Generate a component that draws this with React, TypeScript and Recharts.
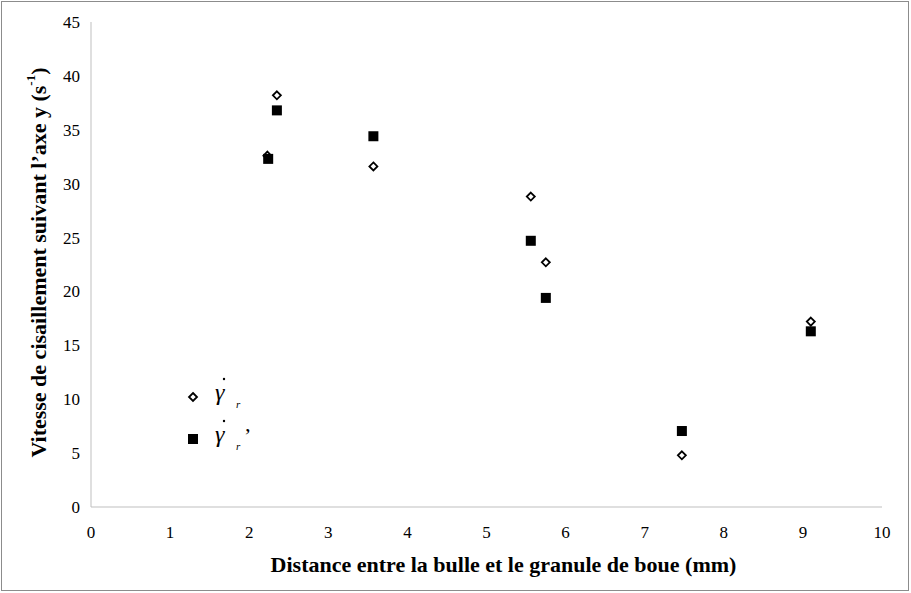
import React from "react";
import { ScatterChart, Scatter, XAxis, YAxis } from "recharts";

const gammaR = [
  { x: 2.23, y: 32.6 },
  { x: 2.35, y: 38.2 },
  { x: 3.57, y: 31.6 },
  { x: 5.56, y: 28.8 },
  { x: 5.75, y: 22.7 },
  { x: 7.47, y: 4.8 },
  { x: 9.1, y: 17.2 },
];

const gammaRPrime = [
  { x: 2.24, y: 32.3 },
  { x: 2.35, y: 36.8 },
  { x: 3.57, y: 34.4 },
  { x: 5.56, y: 24.7 },
  { x: 5.75, y: 19.4 },
  { x: 7.47, y: 7.05 },
  { x: 9.1, y: 16.3 },
];

const xTicks = [0, 1, 2, 3, 4, 5, 6, 7, 8, 9, 10];
const yTicks = [0, 5, 10, 15, 20, 25, 30, 35, 40, 45];

const serif = "'Liberation Serif', 'Times New Roman', serif";

const Diamond = (props: any) => {
  const { cx, cy } = props;
  const r = 4;
  return (
    <path
      d={`M${cx},${cy - r} L${cx + r},${cy} L${cx},${cy + r} L${cx - r},${cy} Z`}
      fill="#fff"
      stroke="#000"
      strokeWidth={1.8}
    />
  );
};

const Square = (props: any) => {
  const { cx, cy } = props;
  const s = 10;
  return <rect x={cx - s / 2} y={cy - s / 2} width={s} height={s} fill="#000" />;
};

const YLabel = (props: any) => {
  const vb = props.viewBox || { x: 0, y: 22, width: 91, height: 485 };
  const cx = vb.x + 38;
  const cy = vb.y + vb.height / 2 - 2;
  return (
    <text
      x={cx}
      y={cy}
      transform={`rotate(-90 ${cx} ${cy})`}
      textAnchor="middle"
      dominantBaseline="central"
      fontFamily={serif}
      fontWeight="bold"
      fontSize={22}
      fill="#000"
    >
      Vitesse de cisaillement suivant l’axe y (s
      <tspan baselineShift="super" fontSize={13}>-1</tspan>)
    </text>
  );
};

const XLabel = (props: any) => {
  const vb = props.viewBox || { x: 91, y: 507, width: 791, height: 86 };
  return (
    <text
      x={vb.x + vb.width / 2 + 17}
      y={vb.y + 65}
      textAnchor="middle"
      fontFamily={serif}
      fontWeight="bold"
      fontSize={22}
      fill="#000"
    >
      Distance entre la bulle et le granule de boue (mm)
    </text>
  );
};

// legend drawn over the plot, like the original figure (dot accent = time derivative)
const LegendEntry = ({ dy, prime }: { dy: number; prime: boolean }) => (
  <g transform={`translate(0 ${dy})`}>
    {prime ? <Square cx={7} cy={47} /> : <Diamond cx={7} cy={47} />}
    <circle cx={38} cy={29} r={1.2} fill="#000" />
    <text fontFamily={serif} fill="#000">
      <tspan x={29} y={50} fontSize={24} fontStyle="italic">γ</tspan>
      <tspan x={50} y={58} fontSize={11} fontStyle="italic">r</tspan>
      {prime ? <tspan x={58} y={51} fontSize={22}>’</tspan> : null}
    </text>
  </g>
);

export default function App() {
  return (
    <div style={{ position: "relative", width: 911, height: 593, background: "#fff" }}>
      <style>{"body{margin:0}"}</style>
      <div
        style={{
          position: "absolute",
          left: 1,
          top: 1,
          width: 906,
          height: 588,
          border: "1px solid #8c8c8c",
          pointerEvents: "none",
        }}
      />
      <ScatterChart width={911} height={593} margin={{ top: 22, right: 29, bottom: 0, left: 0 }}>
        <XAxis
          type="number"
          dataKey="x"
          domain={[0, 10]}
          ticks={xTicks}
          interval={0}
          height={86}
          tickLine={false}
          tickSize={6}
          tickMargin={13}
          axisLine={{ stroke: "#bfbfbf" }}
          tick={{ fill: "#000", fontSize: 17, fontFamily: serif }}
          label={<XLabel />}
        />
        <YAxis
          type="number"
          dataKey="y"
          domain={[0, 45]}
          ticks={yTicks}
          interval={0}
          width={91}
          tickLine={false}
          tickSize={4}
          tickMargin={7}
          axisLine={{ stroke: "#bfbfbf" }}
          tick={{ fill: "#000", fontSize: 17, fontFamily: serif }}
          label={<YLabel />}
        />
        <Scatter name="gamma r" data={gammaR} shape={<Diamond />} isAnimationActive={false} />
        <Scatter name="gamma r prime" data={gammaRPrime} shape={<Square />} isAnimationActive={false} />
      </ScatterChart>
      <svg width={100} height={120} style={{ position: "absolute", left: 186, top: 350 }}>
        <LegendEntry dy={0} prime={false} />
        <LegendEntry dy={42} prime={true} />
      </svg>
    </div>
  );
}
